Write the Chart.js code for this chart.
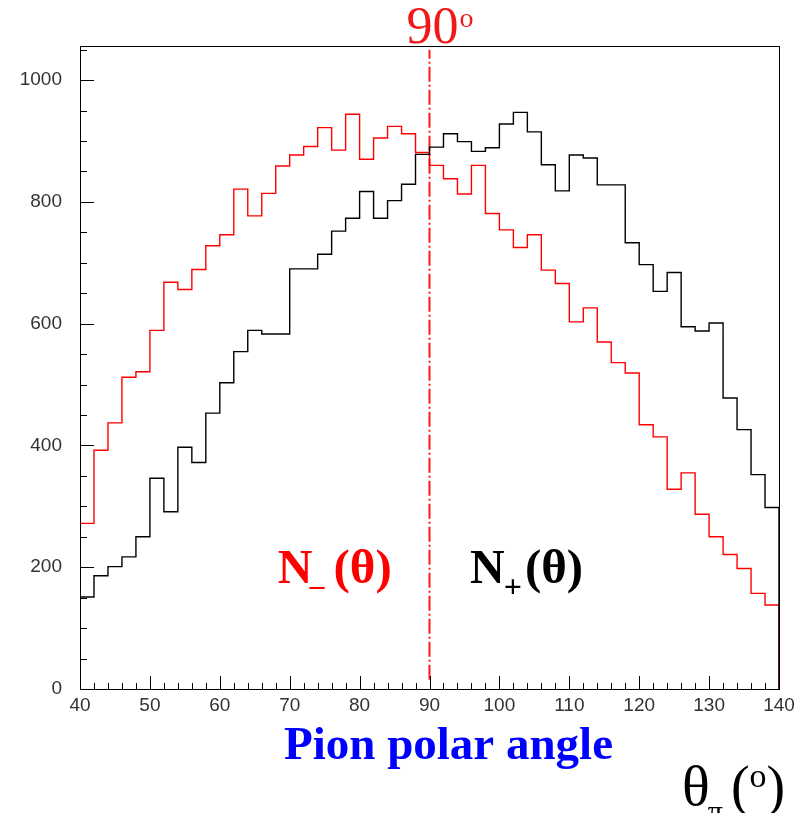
<!DOCTYPE html>
<html>
<head>
<meta charset="utf-8">
<script src="https://cdn.jsdelivr.net/npm/chart.js@4.4.1/dist/chart.umd.min.js"></script>
<style>
  html, body { margin: 0; padding: 0; background: #fff; }
  canvas { display: block; }
</style>
</head>
<body>
<canvas id="myChart" width="808" height="813"></canvas>
<script>
// --- DATA ---
const binLow = [40, 42, 44, 46, 48, 50, 52, 54, 56, 58,
                60, 62, 64, 66, 68, 70, 72, 74, 76, 78,
                80, 82, 84, 86, 88, 90, 92, 94, 96, 98,
                100, 102, 104, 106, 108, 110, 112, 114, 116, 118,
                120, 122, 124, 126, 128, 130, 132, 134, 136, 138];
const binWidth = 2;

// N-(theta), red
const nMinus = [272, 392, 437, 512, 521, 589, 668, 656, 689, 728,
                746, 821, 777, 814, 859, 877, 891, 922, 885, 944,
                870, 905, 924, 912, 881, 860, 838, 813, 860, 781,
                754, 725, 746, 688, 666, 603, 626, 570, 536, 519,
                434, 414, 328, 355, 287, 250, 221, 198, 157, 138];

// N+(theta), black
const nPlus = [151, 186, 201, 217, 250, 346, 291, 397, 372, 453,
               503, 554, 589, 583, 583, 690, 690, 714, 752, 773,
               817, 773, 802, 829, 878, 890, 912, 899, 883, 889,
               928, 947, 915, 861, 818, 877, 872, 828, 828, 733,
               697, 653, 684, 595, 588, 601, 478, 426, 352, 298];

const xTickLabels = [40, 50, 60, 70, 80, 90, 100, 110, 120, 130, 140];
const yTickLabels = [0, 200, 400, 600, 800, 1000];
const markerAngle = 90;

const X_MIN = 40, X_MAX = 140, Y_MAX = 1056;
const X_MINOR = 2, Y_MINOR = 50;

function histPoints(values) {
  const pts = [{ x: binLow[0], y: 0 }];
  values.forEach((v, i) => pts.push({ x: binLow[i], y: v }));
  const end = binLow[binLow.length - 1] + binWidth;
  pts.push({ x: end, y: values[values.length - 1] });
  pts.push({ x: end, y: 0 });
  return pts;
}

// draw a row of text pieces (for sub/superscripts)
function drawParts(ctx, x, y, parts) {
  let cx = x;
  parts.forEach(p => {
    ctx.font = p.font;
    ctx.fillStyle = p.color;
    ctx.fillText(p.text, cx, y + (p.dy || 0));
    cx += ctx.measureText(p.text).width + (p.gap || 0);
  });
}

const framePlugin = {
  id: 'frame',
  afterDatasetsDraw(chart) {
    const ctx = chart.ctx;
    const a = chart.chartArea;
    const xs = chart.scales.x, ys = chart.scales.y;
    ctx.save();
    ctx.strokeStyle = '#000';
    ctx.lineWidth = 1;
    ctx.strokeRect(a.left + 0.5, a.top + 0.5, a.right - a.left, a.bottom - a.top);

    // ticks inside the frame
    ctx.beginPath();
    for (let v = X_MIN; v <= X_MAX; v += X_MINOR) {
      const px = Math.round(xs.getPixelForValue(v)) + 0.5;
      const len = (v % 10 === 0) ? 13 : 6;
      ctx.moveTo(px, a.bottom);
      ctx.lineTo(px, a.bottom - len);
    }
    for (let v = 0; v <= Y_MAX; v += Y_MINOR) {
      const py = Math.round(ys.getPixelForValue(v)) + 0.5;
      const len = (v % 200 === 0) ? 14 : 7;
      ctx.moveTo(a.left, py);
      ctx.lineTo(a.left + len, py);
    }
    ctx.stroke();
    ctx.restore();
  },
  afterDraw(chart) {
    const ctx = chart.ctx;
    const a = chart.chartArea;
    const xs = chart.scales.x, ys = chart.scales.y;
    ctx.save();
    ctx.textBaseline = 'alphabetic';
    ctx.textAlign = 'left';

    // 90 degree label above the frame
    const serif = '"Liberation Serif", "Times New Roman", serif';
    ctx.font = '52px ' + serif;
    const w90 = ctx.measureText('90').width;
    drawParts(ctx, xs.getPixelForValue(markerAngle) - w90 / 2 + 3, a.top - 3, [
      { text: '90', font: '52px ' + serif, color: '#f01818', gap: 1 },
      { text: 'o', font: '28px ' + serif, color: '#f01818', dy: -16 }
    ]);

    // N-(theta)
    const labelY = ys.getPixelForValue(174);
    drawParts(ctx, xs.getPixelForValue(68.3), labelY, [
      { text: 'N', font: 'bold 48px ' + serif, color: '#ff0000', gap: -3 },
      { text: '\u2013', font: 'bold 30px ' + serif, color: '#ff0000', dy: 12, gap: 9 },
      { text: '(\u03b8)', font: 'bold 49px ' + serif, color: '#ff0000' }
    ]);

    // N+(theta)
    drawParts(ctx, xs.getPixelForValue(95.8), labelY, [
      { text: 'N', font: 'bold 48px ' + serif, color: '#000', gap: -1 },
      { text: '+', font: 'bold 32px ' + serif, color: '#000', dy: 14, gap: 3 },
      { text: '(\u03b8)', font: 'bold 49px ' + serif, color: '#000' }
    ]);

    // axis title
    ctx.textAlign = 'center';
    ctx.font = 'bold 47px ' + serif;
    ctx.fillStyle = '#0000ff';
    ctx.fillText('Pion polar angle', (a.left + a.right) / 2 + 19, a.bottom + 70);

    // theta_pi (o)
    ctx.textAlign = 'left';
    drawParts(ctx, 682, 805, [
      { text: '\u03b8', font: '58px ' + serif, color: '#000', gap: -2 },
      { text: '\u03c0', font: '30px ' + serif, color: '#000', dy: 16, gap: 8 },
      { text: '(', font: '56px ' + serif, color: '#000' },
      { text: 'o', font: '34px ' + serif, color: '#000', dy: -18 },
      { text: ')', font: '56px ' + serif, color: '#000' }
    ]);
    ctx.restore();
  }
};

const chartEl = document.getElementById('myChart');

new Chart(chartEl, {
  type: 'line',
  data: {
    datasets: [
      {
        label: 'N+',
        data: histPoints(nPlus),
        stepped: 'before',
        borderColor: '#000',
        borderWidth: 1.4,
        pointRadius: 0,
        fill: false
      },
      {
        label: 'N-',
        data: histPoints(nMinus),
        stepped: 'before',
        borderColor: '#ff0000',
        borderWidth: 1.4,
        pointRadius: 0,
        fill: false
      },
      {
        label: '90',
        data: [{ x: markerAngle, y: 15 }, { x: markerAngle, y: 1050 }],
        borderColor: '#ff1a1a',
        borderWidth: 2,
        borderDash: [15, 3, 2, 3],
        pointRadius: 0,
        fill: false
      }
    ]
  },
  options: {
    responsive: false,
    animation: false,
    layout: { padding: { top: 46, right: 29, left: 0, bottom: 0 } },
    plugins: {
      legend: { display: false },
      tooltip: { enabled: false }
    },
    scales: {
      x: {
        type: 'linear',
        min: X_MIN,
        max: X_MAX,
        grid: { display: false, drawTicks: false },
        border: { display: false },
        afterBuildTicks: (s) => { s.ticks = xTickLabels.map(v => ({ value: v })); },
        afterFit: (s) => { s.height = 124; },
        ticks: {
          padding: 5,
          color: '#333',
          font: { family: '"Liberation Sans", Arial, sans-serif', size: 19 },
          maxRotation: 0,
          autoSkip: false,
          callback: (v) => String(v)
        }
      },
      y: {
        type: 'linear',
        min: 0,
        max: Y_MAX,
        grid: { display: false, drawTicks: false },
        border: { display: false },
        afterBuildTicks: (s) => { s.ticks = yTickLabels.map(v => ({ value: v })); },
        afterFit: (s) => { s.width = 80; },
        ticks: {
          padding: 18,
          color: '#333',
          font: { family: '"Liberation Sans", Arial, sans-serif', size: 19 },
          callback: (v) => String(v)
        }
      }
    }
  },
  plugins: [framePlugin]
});
</script>
</body>
</html>
